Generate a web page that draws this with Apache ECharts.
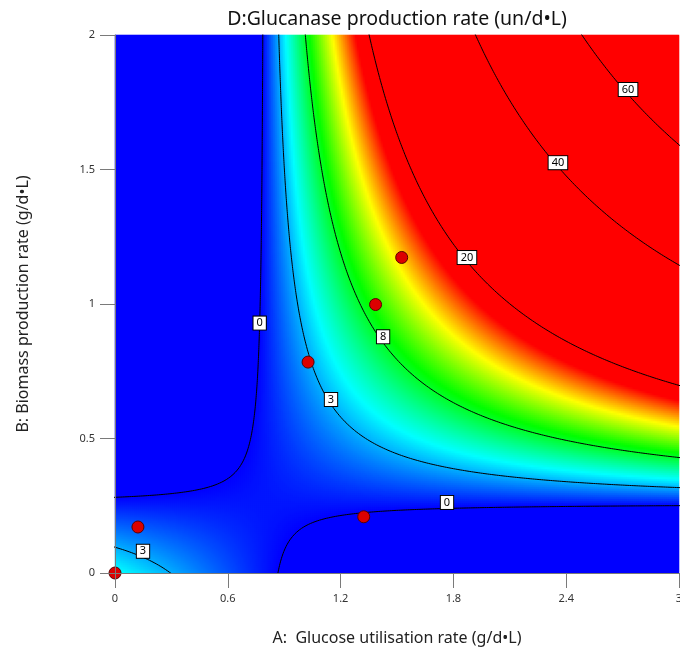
<!DOCTYPE html>
<html><head><meta charset="utf-8">
<script src="https://cdn.jsdelivr.net/npm/echarts@6/dist/echarts.min.js"></script>
<style>html,body{margin:0;padding:0;background:#fff;overflow:hidden}#c{width:680px;height:651px}</style>
</head><body><div id="c"></div>
<script>
// ---- data ----
const chartTitle = 'D:Glucanase production rate (un/d•L)';
const xName = 'A:  Glucose utilisation rate (g/d•L)';
const yName = 'B: Biomass production rate (g/d•L)';
// fitted response-surface model D = b0 + b1*A + b2*B + b12*A*B
const modelTerms = ['Intercept', 'A', 'B', 'AB'];
const modelCoefs = [4.55, -5.25, -16.17, 20.3];
const contourLevels = [0, 3, 8, 20, 40, 60];
const xTicks = [0, 0.6, 1.2, 1.8, 2.4, 3];
const yTicks = [0, 0.5, 1, 1.5, 2];
const pointsA = [0, 0.122, 1.027, 1.386, 1.525, 1.323];
const pointsB = [0, 0.171, 0.784, 0.998, 1.173, 0.209];
const colorRange = [0, 17.5];

// ---- layout / style ----
const FONT = 'Noto Sans';
const xMin = xTicks[0], xMax = xTicks[xTicks.length - 1];
const yMin = yTicks[0], yMax = yTicks[yTicks.length - 1];
const NA = 282, NB = 269;
const labelPlacement = [
  {level: 0, by: 'B', at: 0.929, dy: 0},
  {level: 0, by: 'A', at: 1.766, dy: -6},
  {level: 3, by: 'A', at: 0.149, dy: -6},
  {level: 3, by: 'A', at: 1.149, dy: -5},
  {level: 8, by: 'A', at: 1.426, dy: -6},
  {level: 20, by: 'A', at: 1.872, dy: -4},
  {level: 40, by: 'A', at: 2.356, dy: -4},
  {level: 60, by: 'A', at: 2.729, dy: -5}
];

function D(a, b) {
  const c = modelCoefs;
  return c[0] + c[1] * a + c[2] * b + c[3] * a * b;
}
function bAt(L, a) { const c = modelCoefs; return (L - c[0] - c[1] * a) / (c[2] + c[3] * a); }
function aAt(L, b) { const c = modelCoefs; return (L - c[0] - c[2] * b) / (c[1] + c[3] * b); }

// heatmap grid
const catA = [], catB = [], heat = [];
for (let i = 0; i < NA; i++) catA.push(String(i));
for (let j = 0; j < NB; j++) catB.push(String(j));
for (let i = 0; i < NA; i++) {
  const a = xMin + (i + 0.5) * (xMax - xMin) / NA;
  for (let j = 0; j < NB; j++) {
    const b = yMin + (j + 0.5) * (yMax - yMin) / NB;
    heat.push([i, j, D(a, b)]);
  }
}

// contour branches
function contourBranches(L) {
  const c = modelCoefs;
  const aStar = -c[2] / c[3];
  const pts = [];
  for (let i = 0; i <= 2000; i++) {
    const a = -0.5 + i * 4 / 2000;
    const den = c[2] + c[3] * a;
    if (Math.abs(den) < 1e-9) continue;
    const b = bAt(L, a);
    if (b >= -0.5 && b <= 2.5) pts.push([a, b]);
  }
  for (let j = 0; j <= 1500; j++) {
    const b = -0.5 + j * 3 / 1500;
    const den = c[1] + c[3] * b;
    if (Math.abs(den) < 1e-9) continue;
    const a = aAt(L, b);
    if (a >= -0.5 && a <= 3.5) pts.push([a, b]);
  }
  const left = pts.filter(p => p[0] < aStar).sort((p, q) => p[0] - q[0]);
  const right = pts.filter(p => p[0] > aStar).sort((p, q) => p[0] - q[0]);
  return [left, right].filter(br => br.length > 1);
}

const series = [];
series.push({
  type: 'heatmap', xAxisIndex: 1, yAxisIndex: 1, data: heat,
  progressive: 0, silent: true, emphasis: {disabled: true}, z: 1
});
contourLevels.forEach(L => {
  contourBranches(L).forEach(br => {
    series.push({
      type: 'line', xAxisIndex: 0, yAxisIndex: 0, data: br, showSymbol: false,
      symbol: 'none', clip: true, silent: true, smooth: false,
      lineStyle: {color: '#000', width: 1}, z: 3
    });
  });
});
const labelData = labelPlacement.map(p => {
  const a = p.by === 'A' ? p.at : aAt(p.level, p.at);
  const b = p.by === 'A' ? bAt(p.level, p.at) : p.at;
  return {value: [a, b], name: String(p.level), label: {offset: [0, p.dy]}};
});
series.push({
  type: 'scatter', xAxisIndex: 0, yAxisIndex: 0, data: labelData, symbolSize: 1,
  itemStyle: {color: 'rgba(0,0,0,0)', opacity: 1}, silent: true, clip: false, z: 6,
  label: {
    show: true, position: 'inside', formatter: p => p.name,
    fontFamily: FONT, fontSize: 11, color: '#000', backgroundColor: '#fff', opacity: 1,
    borderColor: '#000', borderWidth: 1, padding: [1, 3, 0, 3], lineHeight: 12
  }
});
series.push({
  type: 'scatter', xAxisIndex: 0, yAxisIndex: 0,
  data: pointsA.map((a, i) => [a, pointsB[i]]),
  symbolSize: 12, clip: false, z: 7, silent: true,
  itemStyle: {color: '#dc0000', borderColor: '#5a0000', borderWidth: 1, opacity: 1}
});

const axisGray = '#7a7a7a';
const option = {
  animation: false,
  textStyle: {fontFamily: FONT},
  grid: {left: 115, right: 1, top: 35, bottom: 78, containLabel: false, outerBoundsMode: 'none'},
  visualMap: {
    type: 'continuous', show: false, min: colorRange[0], max: colorRange[1],
    seriesIndex: 0, dimension: 2,
    inRange: {color: ['#0000ff', '#00ffff', '#00ff00', '#ffff00', '#ff0000']}
  },
  xAxis: [
    {
      type: 'value', min: xMin, max: xMax, interval: xTicks[1] - xTicks[0], position: 'bottom',
      name: xName, nameLocation: 'middle', nameGap: 57,
      nameTextStyle: {fontSize: 16, color: '#222', fontFamily: FONT},
      axisLine: {show: true, onZero: false, lineStyle: {color: axisGray}},
      axisTick: {show: true, length: 15, lineStyle: {color: axisGray}},
      axisLabel: {fontSize: 11, color: '#333', margin: 20, fontFamily: FONT},
      splitLine: {show: false}, z: 10
    },
    {
      type: 'category', data: catA, position: 'top', boundaryGap: true,
      name: chartTitle, nameLocation: 'middle', nameGap: 6,
      nameTextStyle: {fontSize: 19.5, color: '#111', fontFamily: FONT},
      axisLine: {show: true, lineStyle: {color: axisGray}},
      axisTick: {show: false}, axisLabel: {show: false}, splitLine: {show: false}, z: 10
    }
  ],
  yAxis: [
    {
      type: 'value', min: yMin, max: yMax, interval: yTicks[1] - yTicks[0], position: 'left',
      name: yName, nameLocation: 'middle', nameGap: 84, nameRotate: 90,
      nameTextStyle: {fontSize: 16, color: '#222', fontFamily: FONT},
      axisLine: {show: true, onZero: false, lineStyle: {color: axisGray}},
      axisTick: {show: true, length: 15, lineStyle: {color: axisGray}},
      axisLabel: {fontSize: 11, color: '#333', margin: 20, fontFamily: FONT},
      splitLine: {show: false}, z: 10
    },
    {
      type: 'category', data: catB, position: 'right', boundaryGap: true, show: false
    }
  ],
  series: series
};
const chart = echarts.init(document.getElementById('c'), null, {renderer: 'canvas'});
chart.setOption(option);
</script>
</body></html>
